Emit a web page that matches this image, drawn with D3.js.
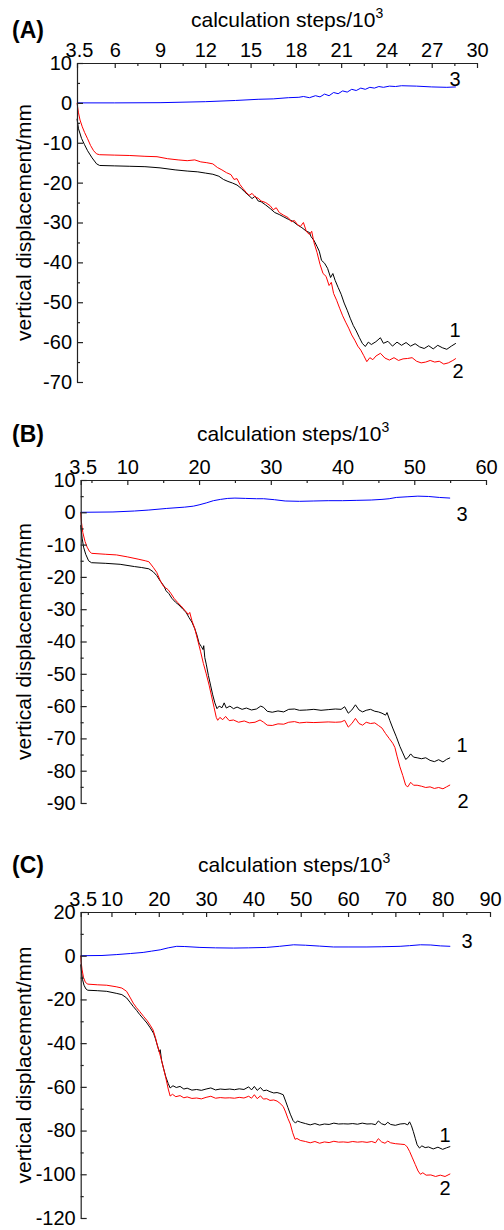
<!DOCTYPE html>
<html><head><meta charset="utf-8">
<script src="https://cdn.jsdelivr.net/npm/d3@7"></script>
<style>body{margin:0;background:#fff}svg{display:block}text{font-family:Arial,"Liberation Sans",sans-serif;fill:#000}</style>
</head><body>
<svg id="chart" width="504" height="1230"></svg>
<script>
// ---------- tick values ----------
const xTicksA = [3.5,6,9,12,15,18,21,24,27,30];
const xMinorA = [7.5,10.5,13.5,16.5,19.5,22.5,25.5,28.5];
const yTicksA = [10,0,-10,-20,-30,-40,-50,-60,-70];
const yMinorA = [5,-5,-15,-25,-35,-45,-55,-65];
const xTicksB = [3.5,10,20,30,40,50,60];
const xMinorB = [5,15,25,35,45,55];
const yTicksB = [10,0,-10,-20,-30,-40,-50,-60,-70,-80,-90];
const yMinorB = [5,-5,-15,-25,-35,-45,-55,-65,-75,-85];
const xTicksC = [3.5,10,20,30,40,50,60,70,80,90];
const xMinorC = [5,15,25,35,45,55,65,75,85];
const yTicksC = [20,0,-20,-40,-60,-80,-100,-120];
const yMinorC = [10,-10,-30,-50,-70,-90,-110];

// ---------- series [calculation steps/10^3, vertical displacement mm] ----------
const A_curve1 = [[3.5,-4],[3.6,-6.5],[3.8,-8.9],[4.0,-10.5],[4.2,-12],[4.5,-13.8],[4.8,-15.3],[5.0,-15.7],[6,-15.8],[7,-15.9],[8,-16.0],[9,-16.3],[10,-16.8],[10.8,-17.1],[11.5,-17.3],[12.0,-17.6],[12.5,-17.9],[12.9,-18.4],[13.2,-19.2],[13.5,-19.7],[13.8,-20.1],[14.1,-20.6],[14.4,-21.5],[14.6,-22.3],[14.9,-23.3],[15.1,-24.0],[15.3,-23.4],[15.5,-24.6],[15.7,-24.8],[16.0,-25.6],[16.3,-26.5],[16.6,-27.5],[16.9,-28.0],[17.2,-28.6],[17.5,-29.2],[17.8,-29.7],[18.1,-30.6],[18.4,-31.3],[18.7,-32.2],[18.9,-32.5],[19.0,-33.5],[19.2,-34.5],[19.4,-36.0],[19.55,-37.2],[19.7,-39.5],[19.9,-40.2],[20.1,-41.5],[20.3,-43.8],[20.45,-42.8],[20.6,-44.5],[20.8,-46.3],[21.0,-48.0],[21.2,-50.2],[21.4,-52.0],[21.6,-54.0],[21.8,-55.8],[22.0,-57.2],[22.2,-58.8],[22.4,-60.3],[22.6,-61.1],[22.8,-60.0],[23.0,-60.6],[23.3,-59.9],[23.6,-58.9],[23.8,-60.3],[24.1,-59.8],[24.4,-61.0],[24.7,-60.0],[25.0,-60.8],[25.3,-60.1],[25.6,-61.0],[25.9,-60.4],[26.2,-61.2],[26.5,-61.6],[26.8,-60.9],[27.1,-61.7],[27.4,-60.8],[27.7,-61.4],[28.0,-61.8],[28.3,-61.0],[28.6,-60.3]];
const A_curve2 = [[3.5,0],[3.6,-2.5],[3.7,-4.3],[3.85,-6],[4.0,-7.4],[4.2,-9],[4.4,-10.7],[4.6,-12],[4.8,-12.8],[5.0,-13.0],[6,-13.1],[7,-13.2],[8,-13.4],[8.8,-13.5],[9.5,-14.0],[10.2,-14.3],[10.8,-14.5],[11.3,-14.3],[11.7,-14.8],[12.1,-15.0],[12.5,-15.3],[12.8,-16.2],[13.1,-16.8],[13.4,-17.5],[13.7,-18.0],[13.9,-19.2],[14.1,-19.0],[14.3,-20.5],[14.5,-21.5],[14.7,-22.4],[14.9,-23.2],[15.1,-22.7],[15.3,-23.6],[15.5,-23.9],[15.7,-24.6],[16.0,-25.0],[16.3,-25.8],[16.5,-26.8],[16.7,-26.3],[16.9,-27.5],[17.2,-28.2],[17.5,-28.8],[17.7,-29.8],[17.9,-29.5],[18.1,-30.5],[18.3,-31.0],[18.5,-30.0],[18.7,-32.3],[18.9,-33.0],[19.05,-32.2],[19.2,-35.0],[19.4,-37.5],[19.6,-40.5],[19.8,-42.8],[20.0,-43.5],[20.2,-45.8],[20.35,-45.0],[20.5,-47.8],[20.7,-49.5],[20.9,-51.5],[21.1,-53.4],[21.3,-55.0],[21.5,-56.5],[21.7,-58.2],[21.9,-59.5],[22.1,-61.0],[22.3,-62.0],[22.5,-63.4],[22.7,-64.9],[22.9,-63.9],[23.1,-64.4],[23.3,-63.5],[23.6,-62.8],[23.9,-64.0],[24.2,-64.5],[24.5,-63.9],[24.8,-64.6],[25.1,-64.2],[25.4,-64.1],[25.7,-63.9],[26.0,-64.8],[26.3,-65.2],[26.6,-65.0],[26.9,-64.6],[27.2,-65.0],[27.5,-64.8],[27.8,-65.5],[28.1,-65.2],[28.4,-64.6],[28.6,-64.1]];
const A_curve3 = [[3.5,0],[6,0],[9,0.05],[12,0.3],[14,0.6],[15.5,0.9],[16.5,1.0],[17.5,1.3],[18.2,1.4],[18.5,1.6],[18.9,1.3],[19.3,1.8],[19.6,1.5],[19.9,2.2],[20.2,1.8],[20.5,2.6],[20.8,2.3],[21.1,3.0],[21.4,2.7],[21.7,3.4],[22.0,3.1],[22.3,3.7],[22.6,3.4],[22.9,3.9],[23.2,3.7],[23.5,4.1],[23.8,3.9],[24.2,4.2],[24.6,4.1],[25,4.3],[26,4.2],[27,4.0],[28,3.9],[28.6,4.0]];

const B_curve1 = [[3.5,-4],[3.7,-8],[3.9,-10.8],[4.2,-13],[4.6,-15],[5.0,-15.6],[7,-15.8],[9,-16.1],[11,-16.8],[12,-17.1],[13,-17.5],[13.6,-18.4],[14.1,-19.6],[14.6,-21.3],[15.1,-22.8],[15.4,-24.3],[15.8,-25.2],[16.2,-26.6],[16.7,-27.8],[17.2,-28.7],[17.7,-29.9],[18.2,-31.0],[18.6,-32.6],[19.0,-34.0],[19.4,-36.0],[19.7,-38.0],[20.0,-40.5],[20.3,-41.5],[20.55,-42.5],[20.65,-41.3],[20.8,-45.0],[21.0,-47.0],[21.3,-50.5],[21.6,-53.5],[21.9,-56.5],[22.2,-59.0],[22.5,-60.8],[22.8,-60.0],[23.2,-60.5],[23.5,-59.0],[23.8,-60.6],[24.3,-60.0],[24.8,-60.8],[25.3,-60.3],[26,-61.0],[26.6,-60.6],[27.3,-61.2],[28,-60.9],[28.6,-60.0],[29.0,-60.4],[29.5,-61.6],[30.2,-61.9],[31,-61.5],[31.8,-61.8],[32.5,-61.0],[33.3,-60.9],[34,-61.3],[35,-61.2],[36,-61.0],[37,-61.3],[38,-61.1],[39,-60.9],[39.8,-61.0],[40.3,-60.2],[40.8,-62.2],[41.3,-61.2],[41.8,-59.6],[42.3,-61.2],[42.8,-61.8],[43.3,-61.3],[43.9,-61.0],[44.5,-61.6],[45.0,-61.8],[45.5,-62.2],[46.0,-62.8],[46.2,-62.0],[46.6,-64.5],[47.0,-66.8],[47.5,-69.5],[48.0,-72.5],[48.4,-74.5],[48.8,-76.5],[49.1,-76.0],[49.5,-74.8],[49.9,-75.8],[50.4,-76.0],[51,-76.3],[51.6,-76.0],[52.2,-76.8],[52.8,-77.2],[53.4,-76.6],[54,-77.3],[54.5,-76.5],[55,-76.0]];
const B_curve2 = [[3.5,0],[3.6,-3],[3.8,-6.3],[4.1,-9],[4.4,-10.8],[4.7,-12],[5.0,-12.7],[7,-13],[8.5,-13.2],[10,-13.8],[11.5,-14.5],[12.5,-15.0],[13,-15.3],[13.6,-17.0],[14.1,-18.6],[14.6,-21.2],[15.0,-22.8],[15.3,-23.3],[15.7,-24.0],[16.1,-25.2],[16.5,-26.6],[17.0,-27.9],[17.5,-29.0],[18.0,-30.3],[18.5,-31.6],[18.7,-31.0],[19.0,-33.5],[19.4,-36.0],[19.8,-39.5],[20.2,-43.0],[20.6,-46.8],[21.0,-50.0],[21.4,-53.5],[21.8,-57.5],[22.1,-60.5],[22.4,-63.5],[22.6,-64.4],[22.9,-63.5],[23.3,-64.2],[23.7,-63.2],[24.2,-64.5],[24.8,-64.3],[25.5,-65.0],[26.3,-64.6],[27.0,-65.2],[27.8,-65.0],[28.5,-64.3],[29.0,-65.0],[29.5,-65.9],[30.2,-66.0],[31,-65.5],[31.8,-65.6],[32.5,-65.0],[33.3,-64.8],[34,-65.2],[35,-65.0],[36,-65.1],[37,-65.0],[38,-64.9],[39,-65.0],[39.8,-64.9],[40.3,-64.4],[40.8,-66.5],[41.3,-65.4],[41.8,-63.8],[42.3,-65.4],[42.8,-65.9],[43.3,-65.0],[43.9,-65.4],[44.5,-65.2],[45.0,-66.0],[45.5,-66.8],[46.0,-68.5],[46.5,-70.0],[47.0,-71.5],[47.3,-72.8],[47.6,-75.5],[48.0,-78.8],[48.4,-81.5],[48.8,-84.5],[49.1,-85.0],[49.5,-83.6],[49.9,-84.5],[50.4,-84.5],[51,-84.8],[51.6,-85.2],[52.2,-85.0],[52.8,-85.5],[53.4,-85.2],[54,-85.6],[54.5,-85.0],[55,-84.4]];
const B_curve3 = [[3.5,0],[8,0.1],[11,0.4],[13,0.7],[15.5,1.2],[18,1.6],[19.2,1.9],[20,2.3],[21,2.9],[22,3.6],[23,4.0],[24,4.3],[25,4.4],[26.5,4.3],[28,4.2],[29,4.2],[30.5,3.9],[32,3.5],[34,3.4],[36,3.5],[38,3.6],[40,3.6],[42,3.7],[44,3.8],[45.5,4.0],[46.5,4.2],[47.5,4.6],[49,4.8],[50.5,5.0],[52,4.9],[53.5,4.6],[55,4.4]];

const C_curve1 = [[3.5,-4],[3.7,-8],[3.9,-11],[4.2,-13.5],[4.6,-15.2],[5.0,-15.8],[7,-16.0],[9,-16.3],[11,-17.2],[12.2,-17.8],[13.2,-19.3],[14.0,-21.5],[14.6,-23.2],[15.3,-25.0],[16.0,-27.0],[16.8,-29.0],[17.5,-30.8],[18.2,-33.0],[18.9,-35.5],[19.3,-38.0],[19.7,-41.0],[20.1,-44.0],[20.3,-43.0],[20.6,-48.0],[21.0,-51.5],[21.5,-55.5],[22.0,-58.5],[22.4,-60.5],[23,-59.5],[23.7,-60.3],[24.5,-59.8],[25.3,-61.0],[26,-60.6],[27,-61.5],[28,-61.2],[29,-61.6],[30,-61.0],[31,-60.5],[32,-61.4],[33,-61.0],[34,-61.2],[35,-61.0],[36,-61.3],[37,-60.9],[38,-61.2],[39,-60.0],[39.6,-61.4],[40.2,-59.8],[40.8,-61.6],[41.5,-60.3],[42.1,-61.8],[42.8,-61.5],[43.5,-62.2],[44.3,-62.8],[45.0,-62.6],[45.6,-63.0],[46.3,-63.6],[46.8,-66.5],[47.3,-69.5],[47.8,-72.5],[48.4,-75.5],[48.9,-76.6],[49.3,-75.6],[50,-76.2],[51,-76.8],[52,-77.4],[53,-76.8],[54,-77.5],[55,-77.0],[56,-77.2],[57,-76.6],[58,-77.0],[59,-76.9],[60,-77.0],[61,-76.8],[62,-77.1],[63,-76.6],[64,-77.0],[65,-76.9],[65.8,-77.3],[66.4,-75.6],[67.1,-76.9],[67.8,-77.4],[68.4,-76.2],[69,-77.2],[70,-77.6],[71,-77.0],[72,-76.8],[72.6,-77.4],[73.0,-76.0],[73.4,-77.8],[73.8,-80.5],[74.2,-83.5],[74.6,-86.5],[75.1,-88.0],[75.6,-87.0],[76.3,-87.8],[77,-87.5],[78,-88.4],[79,-87.6],[80,-88.6],[80.8,-87.9],[81.6,-87.3]];
const C_curve2 = [[3.5,0],[3.6,-3],[3.8,-6.5],[4.1,-10],[4.5,-12.2],[5.0,-13.0],[7,-13.3],[9,-13.5],[11,-14.2],[12.2,-14.8],[13.2,-16.3],[14.0,-19.3],[14.6,-21.7],[15.3,-23.8],[16.0,-25.6],[16.8,-27.8],[17.5,-29.6],[18.2,-31.8],[18.8,-34.0],[19.3,-37.5],[19.7,-41.0],[20.1,-44.0],[20.6,-48.0],[21.0,-51.5],[21.5,-56.0],[22.0,-61.0],[22.4,-64.2],[22.9,-63.4],[23.6,-64.5],[24.5,-64.0],[25.3,-65.0],[26,-64.6],[27,-65.3],[28,-65.1],[29,-65.5],[30,-64.8],[31,-64.3],[32,-65.2],[33,-64.9],[34,-65.1],[35,-65.0],[36,-65.2],[37,-64.8],[38,-65.1],[39,-64.3],[39.6,-65.2],[40.2,-63.6],[40.8,-65.4],[41.5,-64.1],[42.1,-65.6],[42.8,-65.4],[43.5,-66.2],[44.3,-66.0],[45.0,-66.5],[45.6,-67.5],[46.3,-69.0],[46.8,-71.5],[47.3,-74.5],[47.8,-77.0],[48.3,-81.0],[48.8,-84.0],[49.2,-83.6],[49.9,-84.5],[51,-85.0],[52,-85.6],[53,-85.0],[54,-85.8],[55,-85.2],[56,-85.5],[57,-84.9],[58,-85.3],[59,-85.2],[60,-85.4],[61,-85.0],[62,-85.3],[63,-85.1],[64,-85.4],[65,-85.0],[65.8,-85.6],[66.4,-83.7],[67.1,-85.2],[67.8,-85.8],[68.4,-84.8],[69,-85.6],[70,-86.0],[71,-86.2],[72.0,-86.4],[72.5,-87.5],[73.0,-89.5],[73.6,-92.5],[74.2,-95.5],[74.8,-98.5],[75.3,-100.0],[75.8,-99.3],[76.5,-100.4],[77.5,-100.3],[78.5,-101.0],[79.5,-100.4],[80.5,-101.0],[81.6,-99.8]];
const C_curve3 = [[3.5,0],[8,0.1],[11,0.5],[14,1.0],[16.7,1.5],[18.5,2.1],[20.3,2.7],[22,3.6],[23.8,4.3],[25.5,4.2],[28.7,3.8],[32,3.6],[35.8,3.5],[39,3.6],[42.8,3.8],[45.5,4.3],[48.5,5.0],[51,4.8],[54,4.4],[56.9,4.0],[60,4.0],[64,4.0],[67,4.1],[71,4.3],[73,4.6],[75.3,5.0],[77.5,4.9],[79.5,4.5],[81.6,4.3]];

// ---------- panel layout ----------
const panels = [
  {tag:"(A)", xd:[3.5,30], xr:[77,477], yd:[10,-70], yr:[63,382], xT:xTicksA, xM:xMinorA, yT:yTicksA, yM:yMinorA,
   s:[A_curve1,A_curve2,A_curve3], tagY:38, titleX:191, titleY:27,
   nums:[["1",455,337],["2",458,378],["3",455,86]]},
  {tag:"(B)", xd:[3.5,60], xr:[80.7,486], yd:[10,-90], yr:[480,803], xT:xTicksB, xM:xMinorB, yT:yTicksB, yM:yMinorB,
   s:[B_curve1,B_curve2,B_curve3], tagY:442, titleX:197, titleY:441,
   nums:[["1",462,752],["2",463,808],["3",462,521]]},
  {tag:"(C)", xd:[3.5,90], xr:[80.7,490], yd:[20,-120], yr:[912,1218], xT:xTicksC, xM:xMinorC, yT:yTicksC, yM:yMinorC,
   s:[C_curve1,C_curve2,C_curve3], tagY:873, titleX:198, titleY:872,
   nums:[["1",445,1142],["2",445,1195],["3",467,948]]}
];
const colors = ["#000000","#ff0000","#0000ff"];
const svg = d3.select("#chart");
const fmt = d => String(d);

panels.forEach(p => {
  const x = d3.scaleLinear().domain(p.xd).range(p.xr);
  const y = d3.scaleLinear().domain(p.yd).range(p.yr);
  const g = svg.append("g");

  const line = d3.line().x(d => x(d[0])).y(d => y(d[1]));
  p.s.forEach((ser, i) => {
    g.append("path").datum(ser).attr("d", line)
      .attr("fill","none").attr("stroke",colors[i]).attr("stroke-width",1)
      .attr("stroke-linejoin","round");
  });

  const top = g.append("g").attr("transform",`translate(0,${p.yr[0]})`)
    .call(d3.axisTop(x).tickValues(p.xT).tickFormat(fmt).tickSize(-5).tickSizeOuter(0).tickPadding(6));
  top.selectAll(".tick text").filter(d => d === 3.5).attr("dx", 2);
  g.append("g").attr("transform",`translate(0,${p.yr[0]})`)
    .call(d3.axisTop(x).tickValues(p.xM).tickFormat("").tickSize(-3).tickSizeOuter(0))
    .select(".domain").remove();
  g.append("g").attr("transform",`translate(${p.xr[0]},0)`)
    .call(d3.axisLeft(y).tickValues(p.yT).tickFormat(fmt).tickSize(-6).tickSizeOuter(0).tickPadding(5));
  g.append("g").attr("transform",`translate(${p.xr[0]},0)`)
    .call(d3.axisLeft(y).tickValues(p.yM).tickFormat("").tickSize(-3).tickSizeOuter(0))
    .select(".domain").remove();

  g.selectAll(".domain, .tick line").attr("stroke","#222").attr("stroke-width",1.2);
  g.selectAll(".tick text").style("font-size","20px").style("font-family","Arial, 'Liberation Sans', sans-serif").attr("fill","#000");

  const t = g.append("text").attr("x",p.titleX).attr("y",p.titleY).style("font-size","21px");
  t.append("tspan").text("calculation steps/10");
  t.append("tspan").text("3").style("font-size","14px").attr("dy",-9);

  g.append("text").attr("x",12).attr("y",p.tagY).style("font-size","23px").style("font-weight","bold").text(p.tag);

  const cy = (p.yr[0]+p.yr[1])/2;
  g.append("text").attr("transform",`translate(31,${cy}) rotate(-90)`).attr("text-anchor","middle")
    .style("font-size","21px").text("vertical displacement/mm");

  p.nums.forEach(n => {
    g.append("text").attr("x",n[1]).attr("y",n[2]).attr("text-anchor","middle").style("font-size","20px").text(n[0]);
  });
});
</script>
</body></html>
